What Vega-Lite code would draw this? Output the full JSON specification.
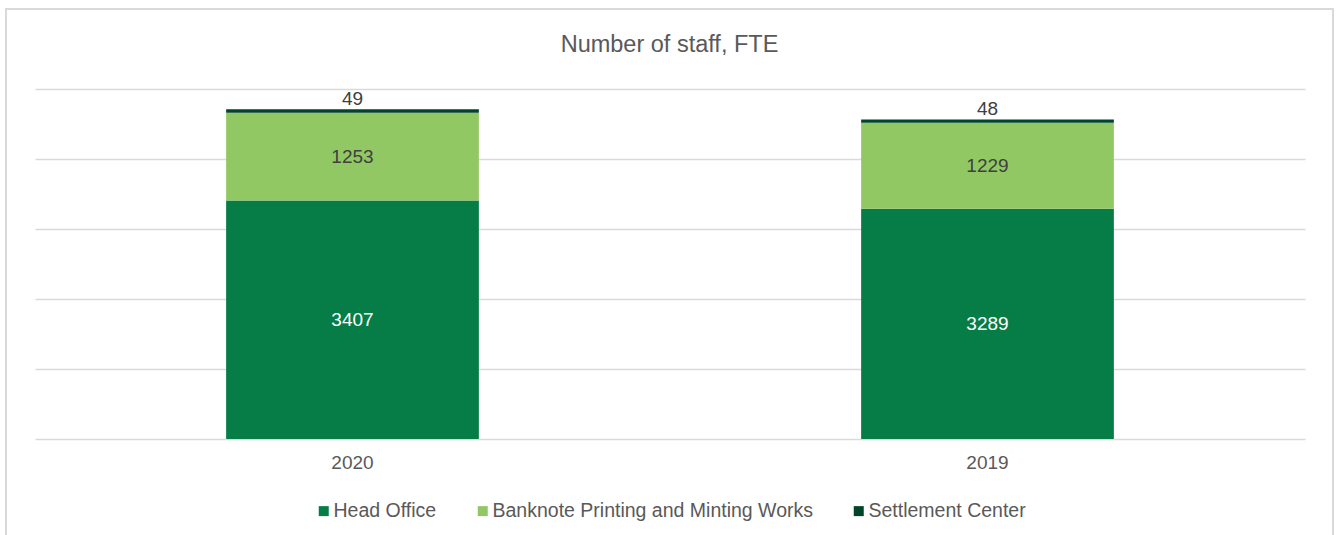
{
  "$schema": "https://vega.github.io/schema/vega-lite/v6.json",
  "width": 1327,
  "height": 528,
  "autosize": {"type": "none"},
  "padding": {"left": 6, "top": 9, "right": 3, "bottom": -2},
  "background": "white",
  "title": {
    "text": "Number of staff, FTE",
    "anchor": "middle",
    "fontSize": 23.5,
    "font": "Liberation Sans",
    "fontWeight": "normal",
    "color": "#595959",
    "baseline": "middle",
    "offset": -59
  },
  "data": {
    "values": [
      {"year": "2020", "category": "Head Office", "value": 3407},
      {"year": "2020", "category": "Banknote Printing and Minting Works", "value": 1253},
      {"year": "2020", "category": "Settlement Center", "value": 49},
      {"year": "2019", "category": "Head Office", "value": 3289},
      {"year": "2019", "category": "Banknote Printing and Minting Works", "value": 1229},
      {"year": "2019", "category": "Settlement Center", "value": 48}
    ]
  },
  "encoding": {
    "x": {
      "field": "year",
      "type": "nominal",
      "sort": ["2020", "2019"],
      "scale": {"range": [29, 1299], "paddingInner": 0.602, "paddingOuter": 0.301},
      "axis": {
        "title": null,
        "orient": "bottom",
        "offset": -98,
        "domain": false,
        "ticks": false,
        "tickSize": 0,
        "labelAngle": 0,
        "labelFont": "Liberation Sans",
        "labelFontSize": 19,
        "labelColor": "#595959",
        "labelBaseline": "middle",
        "labelPadding": 23,
        "grid": false
      }
    }
  },
  "layer": [
    {
      "mark": {"type": "bar"},
      "encoding": {
        "y": {
          "field": "value",
          "type": "quantitative",
          "stack": "zero",
          "scale": {"domain": [-1400, 6142.857], "nice": false, "zero": false},
          "axis": {
            "title": null,
            "orient": "left",
            "values": [0, 1000, 2000, 3000, 4000, 5000],
            "labels": false,
            "ticks": false,
            "domain": false,
            "grid": true,
            "gridColor": "#d9d9d9",
            "gridWidth": 1.5
          }
        },
        "order": {"field": "value", "type": "quantitative", "sort": "descending"},
        "color": {
          "field": "category",
          "type": "nominal",
          "sort": ["Head Office", "Banknote Printing and Minting Works", "Settlement Center"],
          "scale": {
            "domain": ["Head Office", "Banknote Printing and Minting Works", "Settlement Center"],
            "range": ["#067d46", "#92c864", "#00452a"]
          },
          "legend": {
            "title": null,
            "orient": "none",
            "direction": "horizontal",
            "legendX": 308,
            "legendY": 492,
            "symbolType": "square",
            "symbolSize": 100,
            "symbolStrokeWidth": 0,
            "labelFont": "Liberation Sans",
            "labelFontSize": 19.5,
            "labelColor": "#595959",
            "labelOffset": 0,
            "labelLimit": 0,
            "columnPadding": 36
          }
        }
      }
    },
    {
      "transform": [{"filter": "datum.category !== 'Settlement Center'"}],
      "mark": {"type": "text", "font": "Liberation Sans", "fontSize": 19, "baseline": "middle"},
      "encoding": {
        "y": {"field": "value", "type": "quantitative", "stack": "zero", "bandPosition": 0.5},
        "order": {"field": "value", "type": "quantitative", "sort": "descending"},
        "text": {"field": "value", "type": "quantitative"},
        "color": {
          "field": "category",
          "type": "nominal",
          "sort": ["Head Office", "Banknote Printing and Minting Works", "Settlement Center"],
          "scale": {
            "domain": ["Head Office", "Banknote Printing and Minting Works", "Settlement Center"],
            "range": ["#ffffff", "#404040", "#404040"]
          },
          "legend": null
        }
      }
    },
    {
      "transform": [
        {"joinaggregate": [{"op": "sum", "field": "value", "as": "total"}], "groupby": ["year"]},
        {"filter": "datum.category === 'Settlement Center'"}
      ],
      "mark": {"type": "text", "font": "Liberation Sans", "fontSize": 19, "baseline": "alphabetic", "dy": -4, "color": "#404040"},
      "encoding": {
        "y": {"field": "total", "type": "quantitative"},
        "text": {"field": "value", "type": "quantitative"}
      }
    }
  ],
  "resolve": {"scale": {"color": "independent"}},
  "config": {
    "view": {"stroke": "#d9d9d9", "strokeWidth": 2},
    "font": "Liberation Sans"
  }
}
